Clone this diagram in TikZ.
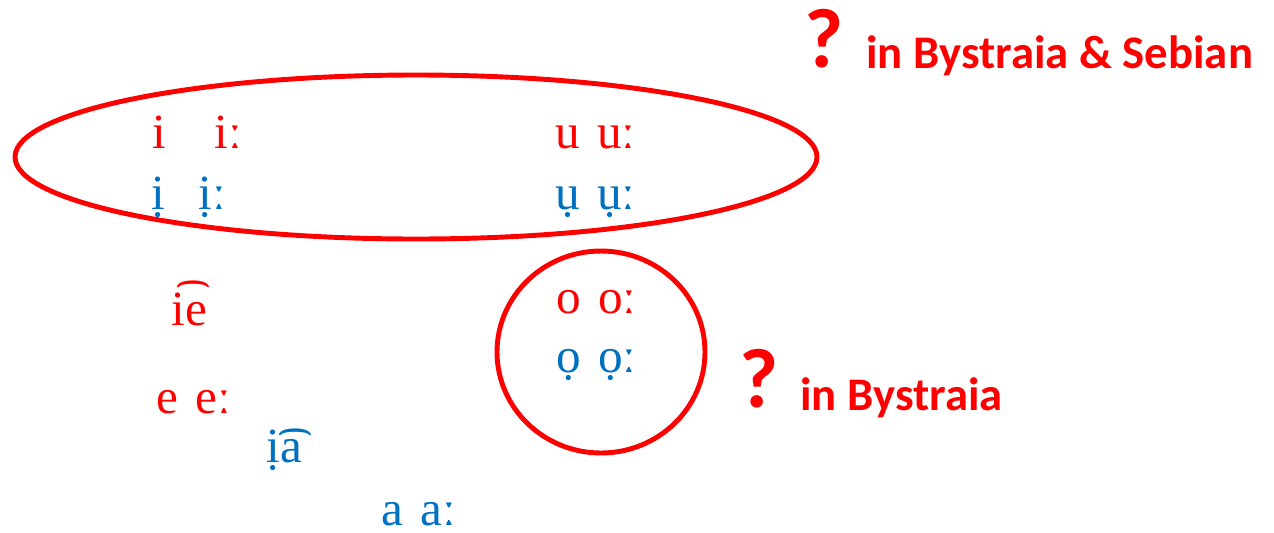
\documentclass[tikz,border=0pt]{standalone}
\usepackage{fontspec}
\setmainfont{Liberation Serif}
\newfontfamily\notefont{Carlito}
\usetikzlibrary{positioning}
\definecolor{ipared}{RGB}{255,0,0}
\definecolor{ipablue}{RGB}{0,112,192}

\begin{document}
\begin{tikzpicture}[
    x=0.02cm, y=-0.02cm,
    ipa/.style={inner sep=0pt, anchor=base west, text depth=0pt,
                font=\fontsize{28}{30}\selectfont},
    redipa/.style={ipa, text=ipared},
    blueipa/.style={ipa, text=ipablue},
    ring/.style={draw=ipared, line width=2.8pt},
    qmark/.style={inner sep=0pt, anchor=base west, text=ipared,
                  font=\notefont\bfseries\fontsize{48}{48}\selectfont},
    note/.style={inner sep=0pt, anchor=base west, text=ipared,
                 font=\notefont\bfseries\fontsize{26.6}{28}\selectfont},
]
\useasboundingbox (0,0) rectangle (1274,532);

%% ---- high vowels ----
\node[redipa]  (ishort)  at (152,148) {i};
\node[redipa]  (ilong)   at (214,148) {iː};
\node[redipa]  (upair)   at (555,148) {u\hspace{0.35em}uː};
\node[blueipa] (ibshort) at (151,209) {i^^^^0323};
\node[blueipa] (iblong)  at (198,209) {i^^^^0323ː};
\node[blueipa] (ubpair)  at (555,209) {u^^^^0323\hspace{0.35em}u^^^^0323ː};

%% ---- mid vowels ----
\node[redipa]  (iediph)  at (171,325) {i^^^^0361e};
\node[redipa]  (opair)   at (556,313) {o\hspace{0.35em}oː};
\node[blueipa] (obpair)  at (556,372) {o^^^^0323\hspace{0.35em}o^^^^0323ː};
\node[redipa]  (epair)   at (156,413) {e\hspace{0.35em}eː};

%% ---- low vowels ----
\node[blueipa] (iadiph)  at (266,462) {i^^^^0323^^^^0361a};
\node[blueipa] (apair)   at (381,525) {a\hspace{0.35em}aː};

%% ---- rings ----
\draw[ring] (416,157) ellipse [x radius=401, y radius=82];
\draw[ring] (601,352) ellipse [x radius=104, y radius=101];

%% ---- notes ----
\node[qmark] (qtop) at (804,67)  {?};
\node[note]  (ntop) at (866,68)  {in Bystraia \& Sebian};
\node[qmark] (qlow) at (739,407) {?};
\node[note]  (nlow) at (800,410) {in Bystraia};

\end{tikzpicture}
\end{document}
